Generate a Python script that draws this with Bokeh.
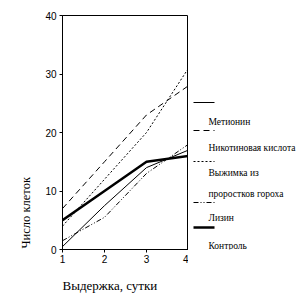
from bokeh.plotting import figure
from bokeh.embed import file_html
from bokeh.resources import INLINE
from bokeh.models import Range1d, FixedTicker, Title
from bokeh.layouts import row
from bokeh.core.properties import value

days = [1, 2, 3, 4]
methionine = [0.5, 7.5, 14, 17]
nicotinic = [7, 15, 23, 28]
pea_extract = [4, 12, 20, 31]
lysine = [1.5, 5.5, 13, 18]
control = [5, 10, 15, 16]

series_names = ["Метионин", "Никотиновая кислота", "Выжимка из\nпроростков гороха", "Лизин", "Контроль"]
y_ticks = [0, 10, 20, 30, 40]

H = 302
TOP, BOTTOM = 15, 53
MAIN_W = 188
p = figure(width=MAIN_W, height=H, output_backend="svg", toolbar_location=None,
           x_range=Range1d(1, 4), y_range=Range1d(0, 40),
           min_border_left=62, min_border_right=0, min_border_top=TOP, min_border_bottom=10)
p.xgrid.visible = False
p.ygrid.visible = False
p.outline_line_color = "black"
p.outline_line_width = 1
p.background_fill_color = "white"
p.border_fill_color = "white"
for ax in (p.xaxis[0], p.yaxis[0]):
    ax.axis_line_color = "black"
    ax.major_tick_line_color = "black"
    ax.minor_tick_line_color = None
    ax.major_tick_out = 3
    ax.major_tick_in = 0
    ax.major_label_text_font = "Liberation Sans"
    ax.major_label_text_font_size = "10px"
    ax.major_label_text_color = "black"
p.xaxis.ticker = FixedTicker(ticks=days)
p.yaxis.ticker = FixedTicker(ticks=y_ticks)
p.xaxis.major_label_standoff = 2
p.yaxis.major_label_standoff = 3

p.add_layout(Title(text="Число клеток", align="left", offset=1, standoff=20,
                   text_font="Liberation Serif", text_font_size="12.5px",
                   text_font_style="normal", text_color="black"), "left")
p.add_layout(Title(text="Выдержка, сутки", align="left", offset=0, standoff=20,
                   text_font="Liberation Serif", text_font_size="13px",
                   text_font_style="normal", text_color="black"), "below")

styles = [
    ("solid", 1),
    ("6 4", 1),
    ("2 2", 1),
    ("5 2 1 2 1 2", 1),
    ("solid", 2.5),
]
all_vals = [methionine, nicotinic, pea_extract, lysine, control]
for vals, (dash, w) in zip(all_vals, styles):
    p.line(days, vals, line_color="black", line_width=w, line_dash=dash)

# legend panel: data coordinates equal page pixels
X0 = MAIN_W
lg = figure(width=304 - MAIN_W, height=H, output_backend="svg", toolbar_location=None,
            x_axis_location=None, y_axis_location=None,
            x_range=Range1d(X0, 304), y_range=Range1d(H - BOTTOM, TOP),
            min_border_left=0, min_border_right=0, min_border_top=TOP, min_border_bottom=BOTTOM,
            outline_line_color=None)
lg.grid.visible = False
leg_y_line = [102, 130, 161, 202, 227]
leg_y_text = [121, 147, 172, 217, 245]
for (dash, w), yl, yt, name in zip(styles, leg_y_line, leg_y_text, series_names):
    lg.line([193, 214], [yl, yl], line_color="black", line_width=w, line_dash=dash)
    for i, part in enumerate(name.split("\n")):
        lg.text([208], [yt + i * 21], text=[part], text_font=value("Liberation Serif"),
                text_font_size="9.5px", text_baseline="middle", text_color="black")

layout = row(p, lg, spacing=0)
open("out.html", "w").write(file_html(layout, INLINE))
